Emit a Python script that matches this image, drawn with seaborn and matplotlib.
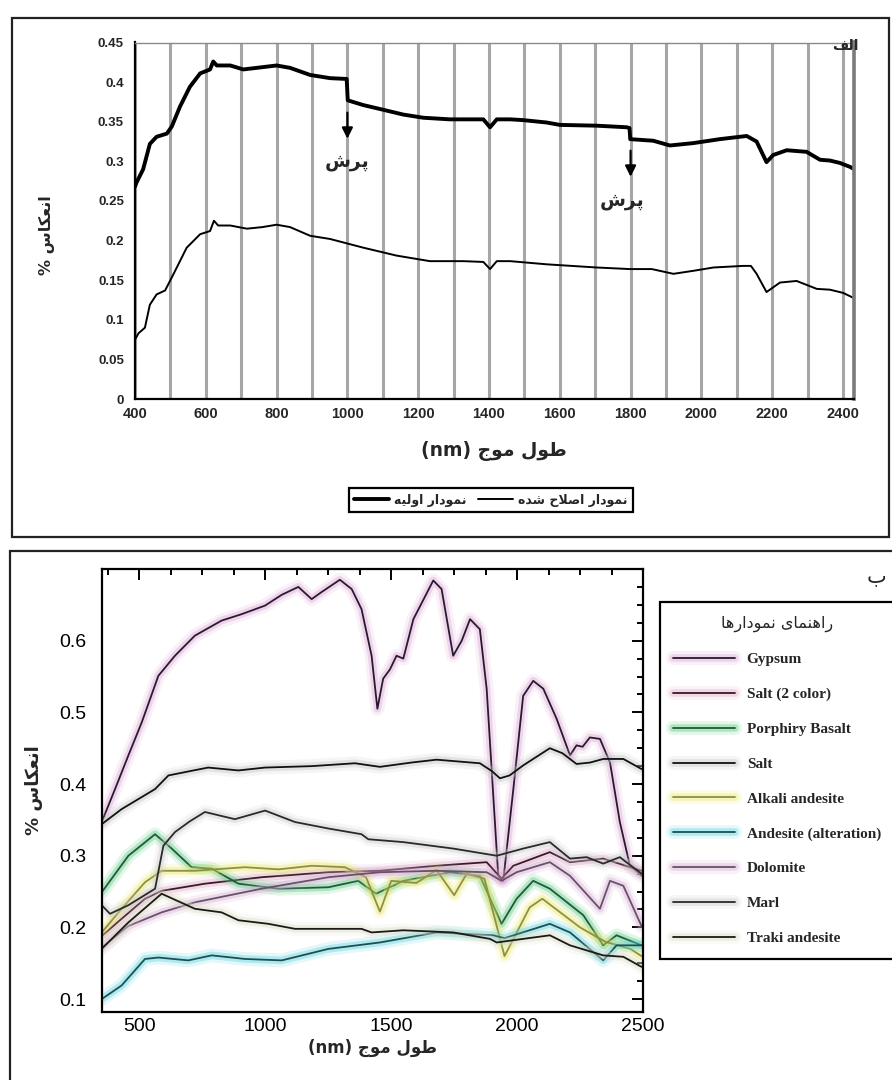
import seaborn as sns
import matplotlib.pyplot as plt
import matplotlib.patheffects as pe
from matplotlib.patches import Rectangle
from matplotlib.ticker import AutoMinorLocator

# ---------------- data: panel (alef) ----------------
raw_nm = [400, 404, 423, 442, 461, 490, 504, 527, 555, 584, 612, 621, 631, 669, 706, 744,
          800, 838, 895, 951, 998, 1001, 1045, 1102, 1158, 1215, 1290, 1384, 1403, 1422,
          1460, 1497, 1563, 1600, 1704, 1789, 1797, 1799, 1864, 1911, 1977, 2052, 2128,
          2156, 2184, 2203, 2241, 2297, 2335, 2363, 2391, 2420, 2428]
raw_val = [0.268, 0.273, 0.290, 0.322, 0.331, 0.335, 0.344, 0.369, 0.394, 0.411, 0.416,
           0.426, 0.421, 0.421, 0.416, 0.418, 0.421, 0.418, 0.409, 0.405, 0.404, 0.377,
           0.371, 0.365, 0.359, 0.355, 0.353, 0.353, 0.343, 0.353, 0.353, 0.352, 0.349,
           0.346, 0.345, 0.343, 0.342, 0.328, 0.326, 0.320, 0.323, 0.328, 0.332, 0.325,
           0.299, 0.308, 0.314, 0.312, 0.302, 0.301, 0.298, 0.293, 0.291]
corr_nm = [400, 410, 428, 442, 461, 485, 508, 546, 584, 612, 623, 635, 669, 716, 760, 800,
           838, 895, 951, 1045, 1139, 1233, 1328, 1384, 1403, 1422, 1460, 1563, 1704, 1798,
           1860, 1921, 1980, 2034, 2118, 2140, 2156, 2184, 2222, 2269, 2326, 2363, 2400, 2428]
corr_val = [0.075, 0.083, 0.090, 0.119, 0.132, 0.137, 0.157, 0.191, 0.208, 0.212, 0.225,
            0.219, 0.219, 0.215, 0.217, 0.220, 0.217, 0.206, 0.202, 0.191, 0.181, 0.174,
            0.174, 0.173, 0.164, 0.174, 0.174, 0.170, 0.166, 0.164, 0.164, 0.158, 0.162,
            0.166, 0.168, 0.168, 0.158, 0.135, 0.147, 0.149, 0.139, 0.138, 0.134, 0.128]
jump_nm = [1000, 1800]
jump_top = [0.365, 0.317]
jump_tip = [0.325, 0.277]
jump_txt_nm = [1000, 1775]
jump_txt_y = [0.300, 0.251]

# ---------------- data: panel (be) ----------------
gyp_nm = [350, 403, 456, 509, 575, 641, 720, 826, 906, 999, 1065, 1131, 1184, 1224, 1296,
          1343, 1382, 1422, 1445, 1468, 1495, 1521, 1548, 1588, 1667, 1700, 1746, 1780,
          1813, 1852, 1879, 1925, 1945, 1985, 2024, 2064, 2104, 2157, 2210, 2236, 2260,
          2289, 2329, 2369, 2408, 2448, 2494]
gyp_val = [0.347, 0.393, 0.440, 0.486, 0.551, 0.579, 0.607, 0.628, 0.637, 0.649, 0.664,
           0.675, 0.658, 0.668, 0.685, 0.672, 0.644, 0.579, 0.505, 0.547, 0.560, 0.579,
           0.575, 0.630, 0.684, 0.672, 0.579, 0.600, 0.630, 0.616, 0.533, 0.272, 0.265,
           0.393, 0.523, 0.544, 0.533, 0.491, 0.440, 0.454, 0.452, 0.465, 0.463, 0.430,
           0.347, 0.286, 0.272]
salt2_nm = [350, 429, 522, 588, 760, 985, 1250, 1455, 1680, 1879, 1938, 1985, 2130, 2210,
            2342, 2494]
salt2_val = [0.188, 0.212, 0.240, 0.251, 0.261, 0.270, 0.277, 0.279, 0.286, 0.291, 0.268,
             0.286, 0.305, 0.291, 0.296, 0.279]
basalt_nm = [350, 456, 562, 628, 707, 787, 893, 1052, 1250, 1369, 1440, 1548, 1733, 1852,
             1938, 1998, 2064, 2130, 2263, 2342, 2395, 2494]
basalt_val = [0.249, 0.300, 0.330, 0.310, 0.284, 0.282, 0.261, 0.254, 0.256, 0.265, 0.247,
              0.265, 0.277, 0.272, 0.205, 0.240, 0.265, 0.254, 0.217, 0.175, 0.189, 0.175]
salt_nm = [350, 429, 562, 615, 700, 773, 893, 999, 1184, 1356, 1455, 1580, 1680, 1852, 1900,
           1932, 1970, 2024, 2130, 2180, 2236, 2290, 2342, 2422, 2494]
salt_val = [0.344, 0.365, 0.393, 0.412, 0.418, 0.423, 0.419, 0.423, 0.425, 0.429, 0.424,
            0.430, 0.434, 0.429, 0.418, 0.408, 0.412, 0.426, 0.450, 0.443, 0.428, 0.430,
            0.435, 0.435, 0.421]
alkali_nm = [350, 429, 522, 588, 720, 919, 1052, 1184, 1316, 1400, 1455, 1500, 1600, 1680,
             1750, 1800, 1870, 1950, 2050, 2100, 2250, 2350, 2450, 2494]
alkali_val = [0.193, 0.226, 0.263, 0.279, 0.279, 0.284, 0.281, 0.286, 0.284, 0.270, 0.222,
              0.265, 0.262, 0.280, 0.245, 0.275, 0.268, 0.160, 0.228, 0.240, 0.200, 0.180,
              0.170, 0.160]
andes_nm = [350, 429, 522, 575, 694, 787, 919, 1065, 1250, 1455, 1680, 1905, 1950, 2130,
            2210, 2342, 2395, 2494]
andes_val = [0.100, 0.119, 0.156, 0.158, 0.154, 0.161, 0.156, 0.154, 0.170, 0.179, 0.193,
             0.189, 0.185, 0.205, 0.193, 0.154, 0.175, 0.175]
dolo_nm = [350, 456, 588, 720, 985, 1250, 1455, 1680, 1879, 1938, 1998, 2130, 2210, 2329,
           2369, 2422, 2494]
dolo_val = [0.172, 0.202, 0.221, 0.235, 0.254, 0.270, 0.277, 0.279, 0.277, 0.265, 0.277,
            0.291, 0.272, 0.226, 0.265, 0.258, 0.202]
marl_nm = [350, 383, 456, 562, 595, 641, 700, 760, 879, 999, 1118, 1250, 1382, 1409, 1548,
           1746, 1919, 2024, 2130, 2210, 2276, 2342, 2408, 2494]
marl_val = [0.231, 0.219, 0.231, 0.254, 0.314, 0.333, 0.348, 0.361, 0.351, 0.363, 0.347,
            0.338, 0.330, 0.323, 0.319, 0.310, 0.300, 0.310, 0.319, 0.296, 0.298, 0.289,
            0.298, 0.275]
traki_nm = [350, 456, 588, 720, 826, 893, 1012, 1118, 1382, 1422, 1548, 1746, 1892, 1919,
            2024, 2130, 2210, 2342, 2422, 2494]
traki_val = [0.170, 0.207, 0.247, 0.226, 0.221, 0.210, 0.205, 0.198, 0.198, 0.193, 0.196,
             0.193, 0.184, 0.179, 0.184, 0.189, 0.175, 0.161, 0.159, 0.145]

minerals = ['Gypsum', 'Salt (2 color)', 'Porphiry Basalt', 'Salt', 'Alkali andesite',
            'Andesite (alteration)', 'Dolomite', 'Marl', 'Traki andesite']
series = [(gyp_nm, gyp_val), (salt2_nm, salt2_val), (basalt_nm, basalt_val),
          (salt_nm, salt_val), (alkali_nm, alkali_val), (andes_nm, andes_val),
          (dolo_nm, dolo_val), (marl_nm, marl_val), (traki_nm, traki_val)]
line_colors = ['#2a1a30', '#3a1a2a', '#1f5a3a', '#111111', '#8f8f45', '#1f5050',
               '#6a5068', '#2a2a2a', '#1a1a1a']
glow_colors = ['#d9a0d0', '#e0a8c8', '#50c878', '#c0c0c0', '#e8e860', '#50d0e0',
               '#d0a8d0', '#c8c8c8', '#d8d8c0']

# ---------------- persian shaping (no RTL support in matplotlib) ----------------
FORMS = {
    'ا': ('\ufe8d', '\ufe8e', None, None),
    'ب': ('\ufe8f', '\ufe90', '\ufe91', '\ufe92'),
    'پ': ('\ufb56', '\ufb57', '\ufb58', '\ufb59'),
    'ج': ('\ufe9d', '\ufe9e', '\ufe9f', '\ufea0'),
    'ح': ('\ufea1', '\ufea2', '\ufea3', '\ufea4'),
    'د': ('\ufea9', '\ufeaa', None, None),
    'ر': ('\ufead', '\ufeae', None, None),
    'س': ('\ufeb1', '\ufeb2', '\ufeb3', '\ufeb4'),
    'ش': ('\ufeb5', '\ufeb6', '\ufeb7', '\ufeb8'),
    'ص': ('\ufeb9', '\ufeba', '\ufebb', '\ufebc'),
    'ط': ('\ufec1', '\ufec2', '\ufec3', '\ufec4'),
    'ع': ('\ufec9', '\ufeca', '\ufecb', '\ufecc'),
    'ف': ('\ufed1', '\ufed2', '\ufed3', '\ufed4'),
    'ک': ('\ufb8e', '\ufb8f', '\ufb90', '\ufb91'),
    'ل': ('\ufedd', '\ufede', '\ufedf', '\ufee0'),
    'م': ('\ufee1', '\ufee2', '\ufee3', '\ufee4'),
    'ن': ('\ufee5', '\ufee6', '\ufee7', '\ufee8'),
    'ه': ('\ufee9', '\ufeea', '\ufeeb', '\ufeec'),
    'و': ('\ufeed', '\ufeee', None, None),
    'ی': ('\ufbfc', '\ufbfd', '\ufbfe', '\ufbff'),
}


def fa(text):
    tokens = []
    i = 0
    while i < len(text):
        if text[i] == 'ل' and i + 1 < len(text) and text[i + 1] == 'ا':
            tokens.append('لا')
            i += 2
        else:
            tokens.append(text[i])
            i += 1

    def is_ar(t):
        return t in FORMS or t == 'لا'

    def links_next(t):
        return t in FORMS and FORMS[t][2] is not None

    out = []
    for k, t in enumerate(tokens):
        prev = is_ar(t) and k > 0 and links_next(tokens[k - 1])
        nxt = links_next(t) and k + 1 < len(tokens) and is_ar(tokens[k + 1])
        if t == 'لا':
            out.append('\ufefc' if prev else '\ufefb')
        elif t in FORMS:
            iso, fin, ini, med = FORMS[t]
            out.append(med if (prev and nxt) else fin if prev else ini if nxt else iso)
        else:
            out.append(t)
    return ''.join(reversed(out))


sns.set_style('white')
plt.rcParams['font.family'] = ['Liberation Sans', 'DejaVu Sans']
AR = ['DejaVu Sans']

W, H = 892, 1080
fig = plt.figure(figsize=(W / 100, H / 100), dpi=100)

# panel frames
fig.add_artist(Rectangle((12 / W, 1 - 537 / H), 877 / W, 519 / H, transform=fig.transFigure,
                         fill=False, lw=1.6, ec='#222222'))
fig.add_artist(Rectangle((10 / W, 1 - 1100 / H), 900 / W, 549 / H, transform=fig.transFigure,
                         fill=False, lw=1.6, ec='#222222', clip_on=False))

# ================= panel alef =================
ax1 = fig.add_axes([135 / W, 1 - 399 / H, 718.6 / W, 356.5 / H])
sns.lineplot(x=raw_nm, y=raw_val, sort=False, estimator=None, color='black', lw=2.8,
             ax=ax1, label=fa('نمودار اولیه'))
sns.lineplot(x=corr_nm, y=corr_val, sort=False, estimator=None, color='black', lw=1.4,
             ax=ax1, label=fa('نمودار اصلاح شده'))
ax1.set_xlim(400, 2430)
ax1.set_ylim(0, 0.45)
ax1.set_xticks(range(400, 2401, 200))
ax1.set_xticks(range(400, 2401, 100), minor=True)
yt = [0, 0.05, 0.1, 0.15, 0.2, 0.25, 0.3, 0.35, 0.4, 0.45]
ax1.set_yticks(yt)
ax1.set_yticklabels(['0', '0.05', '0.1', '0.15', '0.2', '0.25', '0.3', '0.35', '0.4', '0.45'])
ax1.grid(axis='x', which='both', color='#a6a6a6', lw=2.2)
ax1.set_axisbelow(True)
ax1.tick_params(axis='x', which='major', direction='inout', length=6, width=1.2, pad=3,
                labelsize=10.5)
ax1.tick_params(axis='x', which='minor', length=0)
ax1.tick_params(axis='y', direction='out', length=4, width=1.2, pad=4, labelsize=9.5)
for lab in ax1.get_xticklabels() + ax1.get_yticklabels():
    lab.set_fontweight('bold')
for s in ['left', 'bottom']:
    ax1.spines[s].set_color('black')
    ax1.spines[s].set_linewidth(1.6)
ax1.spines['top'].set_color('#8a8a8a')
ax1.spines['top'].set_linewidth(1.0)
ax1.spines['right'].set_color('#7a7a7a')
ax1.spines['right'].set_linewidth(2.6)
ax1.set_xlabel('(nm) ' + fa('طول موج'), family=AR, fontweight='bold', fontsize=13.5,
               labelpad=14)
ax1.set_ylabel(fa('انعکاس %'), family=AR, fontweight='bold', fontsize=11.5)
ax1.yaxis.set_label_coords(-0.112, 0.46)

for xn, yt0, yt1, tx, ty in zip(jump_nm, jump_top, jump_tip, jump_txt_nm, jump_txt_y):
    ax1.annotate('', xy=(xn, yt1), xytext=(xn, yt0),
                 arrowprops=dict(arrowstyle='-|>', color='black', lw=1.6, mutation_scale=16))
    ax1.text(tx, ty, fa('پرش'), family=AR, fontweight='bold', fontsize=13.5,
             ha='center', va='center')

leg1 = ax1.legend(loc='center', bbox_to_anchor=(491 / W, 1 - 500 / H),
                  bbox_transform=fig.transFigure, ncol=2, frameon=True, fancybox=False,
                  edgecolor='black', framealpha=1, handlelength=2.8, handletextpad=0.4,
                  columnspacing=0.9, borderpad=0.45,
                  prop=dict(family=AR, weight='bold', size=9))
leg1.get_frame().set_linewidth(1.6)
fig.text(845 / W, 1 - 46 / H, fa('الف'), family=AR, fontweight='bold', fontsize=10,
         ha='center', va='center')

# ================= panel be =================
ax2 = fig.add_axes([101.7 / W, 1 - 1012 / H, 541.3 / W, 443 / H])
for name, (xs, ys), lc, gc in zip(minerals, series, line_colors, glow_colors):
    sns.lineplot(x=xs, y=ys, sort=False, estimator=None, color=lc, lw=1.3, ax=ax2,
                 label=name)
    ax2.lines[-1].set_path_effects([
        pe.Stroke(linewidth=10, foreground=gc, alpha=0.15),
        pe.Stroke(linewidth=5.5, foreground=gc, alpha=0.35),
        pe.Normal()])
ax2.set_xlim(350, 2500)
ax2.set_ylim(0.082, 0.70)
ax2.set_xticks([500, 1000, 1500, 2000, 2500])
ax2.set_yticks([0.1, 0.2, 0.3, 0.4, 0.5, 0.6])
ax2.set_yticklabels(['0.1', '0.2', '0.3', '0.4', '0.5', '0.6'])
ax2.xaxis.set_minor_locator(AutoMinorLocator(4))
ax2.yaxis.set_minor_locator(AutoMinorLocator(4))
ax2.tick_params(which='both', direction='in', top=True, right=True, width=1.4,
                labelsize=14, colors='black')
ax2.tick_params(which='major', length=8)
ax2.tick_params(which='minor', length=4.5)
ax2.tick_params(axis='y', pad=11)
ax2.tick_params(axis='x', pad=4)
for s in ax2.spines.values():
    s.set_color('black')
    s.set_linewidth(1.6)
ax2.set_xlabel('(nm) ' + fa('طول موج'), family=AR, fontweight='bold', fontsize=12,
               labelpad=3)
ax2.set_ylabel(fa('انعکاس %'), family=AR, fontweight='bold', fontsize=13, labelpad=12)

leg2 = ax2.legend(loc='upper left', bbox_to_anchor=(652 / W, 1 - 594 / H),
                  bbox_transform=fig.transFigure, frameon=True, fancybox=False,
                  edgecolor='black', framealpha=1, handlelength=4.0, handletextpad=0.8,
                  labelspacing=1.38, borderpad=0.9,
                  prop=dict(family='Liberation Serif', weight='bold', size=11),
                  title=fa('راهنمای نمودارها'),
                  title_fontproperties=dict(family=AR, size=11.5))
leg2.get_frame().set_linewidth(1.6)
fig.text(876 / W, 1 - 576 / H, fa('ب'), family=AR, fontsize=15, ha='center', va='center')

fig.savefig('out.png', dpi=100)
